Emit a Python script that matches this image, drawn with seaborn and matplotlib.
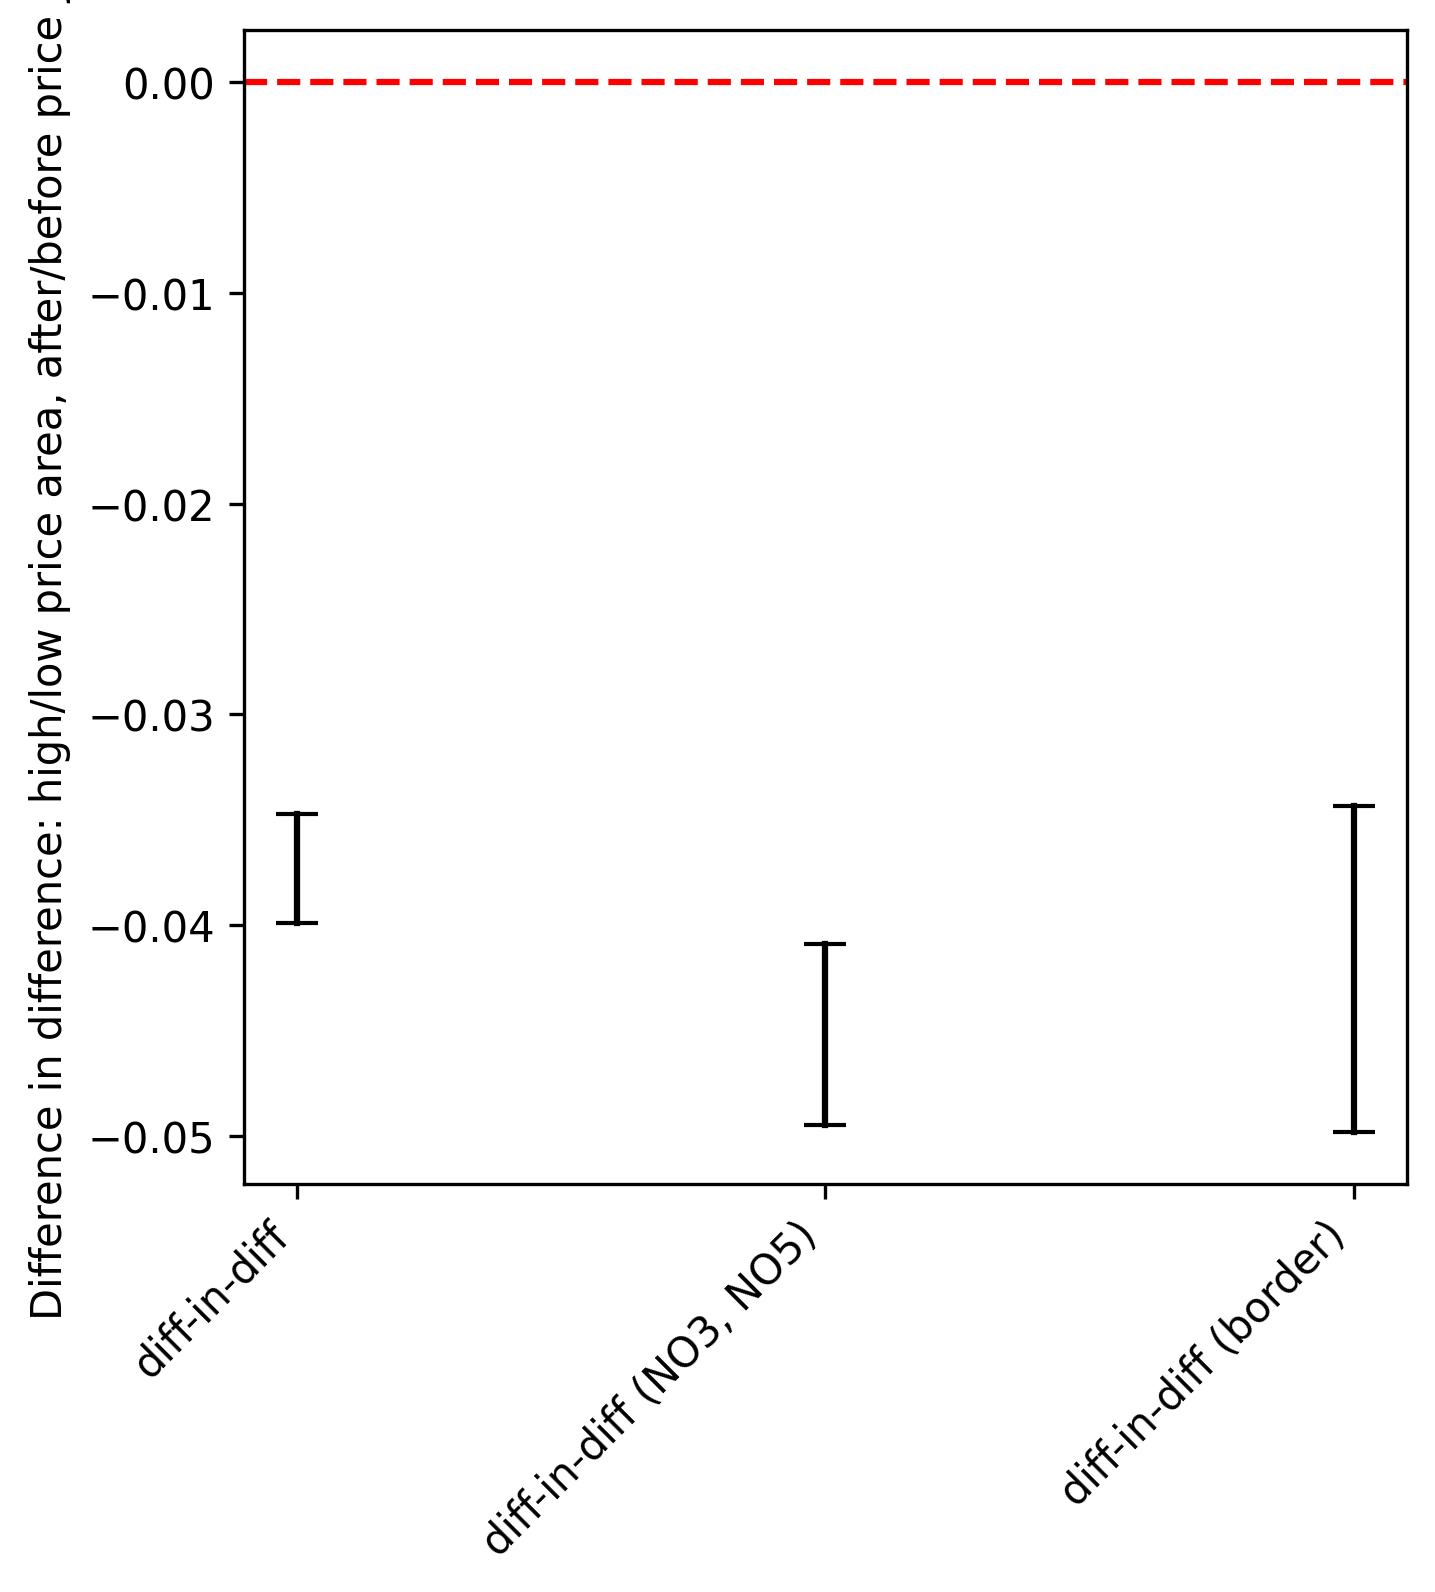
import numpy as np
import pandas as pd
import matplotlib
matplotlib.use("Agg")
import matplotlib.pyplot as plt
import seaborn as sns

# ---- data ----
categories = ["diff-in-diff", "diff-in-diff (NO3, NO5)", "diff-in-diff (border)"]
ci_lower = [-0.03990, -0.04947, -0.04980]
ci_upper = [-0.03471, -0.04088, -0.03433]
reference_value = 0.0
y_label = "Difference in difference: high/low price area, after/before price jump"

df = pd.DataFrame({
    "method": categories + categories,
    "bound": ["lower"] * len(categories) + ["upper"] * len(categories),
    "value": ci_lower + ci_upper,
})

plt.rcParams["font.family"] = ["DejaVu Sans"]
plt.rcParams["font.size"] = 10

fig = plt.figure(figsize=(1435 / 300, 1593 / 300), dpi=300)
ax = fig.add_axes([0.1702, 0.2561, 0.8101, 0.7246])

# vertical interval lines (min..max of the two bounds)
sns.pointplot(data=df, x="method", y="value", order=categories,
              estimator="mean", errorbar=("pi", 100), color="black",
              marker="", linestyle="none", err_kws={"linewidth": 1.5},
              ax=ax)
# caps
sns.scatterplot(data=df, x="method", y="value", marker="_", s=100,
                color="black", linewidth=1, legend=False, ax=ax)

ax.axhline(reference_value, color="red", linestyle="--", linewidth=1.5)

n = len(categories)
ax.set_xlim(-0.05 * (n - 1), (n - 1) * 1.05)
ax.set_xlabel("")
ax.set_ylabel(y_label)
plt.setp(ax.get_xticklabels(), rotation=45, ha="right")

fig.savefig("out.png", dpi=300)
